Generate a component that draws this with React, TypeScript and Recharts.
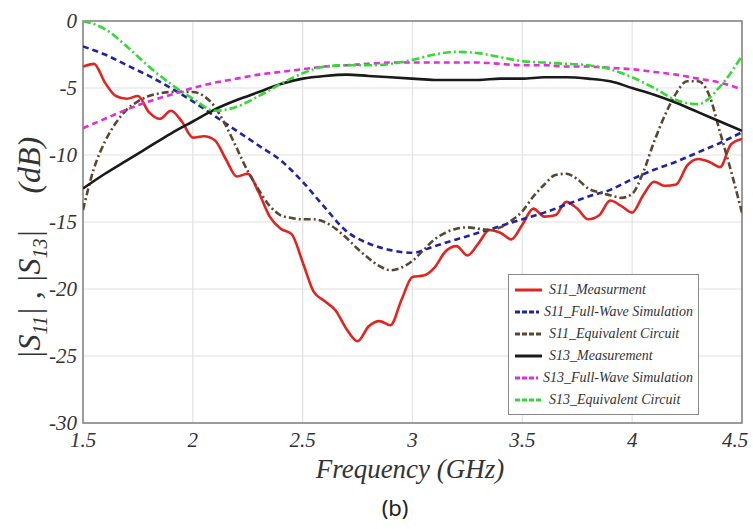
import { CartesianGrid, Legend, Line, LineChart, ReferenceArea, XAxis, YAxis } from "recharts";

// frequency grids (GHz)
const FREQ_FINE = [
  1.5, 1.55, 1.6, 1.65, 1.7, 1.75, 1.8, 1.85, 1.9, 1.95, 2.0, 2.05, 2.1, 2.15, 2.2, 2.25, 2.3, 2.35, 2.4, 2.45,
  2.5, 2.55, 2.6, 2.65, 2.7, 2.75, 2.8, 2.85, 2.9, 2.95, 3.0, 3.05, 3.1, 3.15, 3.2, 3.25, 3.3, 3.35, 3.4, 3.45,
  3.5, 3.55, 3.6, 3.65, 3.7, 3.75, 3.8, 3.85, 3.9, 3.95, 4.0, 4.05, 4.1, 4.15, 4.2, 4.25, 4.3, 4.35, 4.4, 4.45, 4.5,
];
const FREQ_COARSE = [
  1.5, 1.6, 1.7, 1.8, 1.9, 2.0, 2.1, 2.2, 2.3, 2.4, 2.5, 2.6, 2.7, 2.8, 2.9, 3.0,
  3.1, 3.2, 3.3, 3.4, 3.5, 3.6, 3.7, 3.8, 3.9, 4.0, 4.1, 4.2, 4.3, 4.4, 4.5,
];

// dB values
const S11_MEAS = [
  -3.4, -3.2, -4.6, -5.6, -5.8, -5.6, -6.8, -7.3, -6.7, -7.5, -8.7, -8.6, -8.9, -10.3, -11.6, -11.4, -12.8, -14.6, -15.5, -15.9,
  -18.0, -20.2, -20.9, -21.6, -23.0, -23.9, -22.8, -22.4, -22.7, -20.8, -19.1, -19.0, -18.4, -17.2, -16.8, -17.5, -16.6, -15.6, -15.8, -16.3,
  -15.2, -14.0, -14.6, -14.5, -13.5, -14.0, -14.8, -14.5, -13.4, -13.8, -14.3, -13.0, -12.0, -12.3, -12.2, -10.8, -10.3, -10.5, -10.9, -9.2, -8.8,
];
const S11_CIRCUIT = [
  -14.1, -11.0, -9.0, -7.6, -6.6, -6.0, -5.6, -5.4, -5.3, -5.3, -5.3, -5.6, -6.4, -7.8, -9.5, -11.2, -12.6, -13.8, -14.5, -14.7,
  -14.8, -14.8, -15.0, -15.5, -16.2, -17.0, -17.7, -18.3, -18.6, -18.4, -17.9, -17.1, -16.3, -15.8, -15.5, -15.4, -15.5, -15.6, -15.4, -14.9,
  -14.2, -13.1, -12.2, -11.5, -11.4, -11.8, -12.5, -12.8, -13.0, -13.2, -12.9, -11.3, -9.0, -7.0, -5.4, -4.5, -4.5, -5.5, -8.3, -11.2, -14.3,
];
const S11_FULLWAVE = [
  -1.9, -2.5, -3.3, -4.1, -5.0, -6.0, -7.1, -8.2, -9.3, -10.4, -12.0, -13.9, -15.7, -16.6, -17.1, -17.3,
  -16.8, -16.3, -15.8, -15.3, -14.8, -14.3, -13.7, -13.1, -12.6, -11.8, -11.1, -10.5, -9.8, -9.1, -8.3,
];
const S13_MEAS = [
  -12.5, -11.4, -10.4, -9.4, -8.4, -7.5, -6.6, -5.9, -5.3, -4.7, -4.3, -4.1, -4.0, -4.1, -4.2, -4.3,
  -4.4, -4.4, -4.4, -4.3, -4.3, -4.2, -4.2, -4.3, -4.5, -5.0, -5.5, -6.1, -6.8, -7.5, -8.2,
];
const S13_FULLWAVE = [
  -8.0, -7.3, -6.6, -6.0, -5.5, -5.0, -4.6, -4.3, -4.0, -3.8, -3.6, -3.4, -3.3, -3.2, -3.1, -3.1,
  -3.1, -3.1, -3.1, -3.2, -3.3, -3.3, -3.4, -3.4, -3.5, -3.6, -3.8, -4.0, -4.3, -4.6, -5.1,
];
const S13_CIRCUIT = [
  0.0, -0.6, -1.9, -3.4, -4.7, -5.8, -6.7, -6.4, -5.6, -4.7, -3.9, -3.4, -3.3, -3.3, -3.2, -2.9,
  -2.5, -2.3, -2.4, -2.7, -3.0, -3.1, -3.2, -3.3, -3.6, -4.2, -5.0, -5.9, -6.2, -4.9, -2.6,
];

const X_TICKS = [1.5, 2, 2.5, 3, 3.5, 4, 4.5];
const Y_TICKS = [0, -5, -10, -15, -20, -25, -30];

const toPoints = (freq: number[], db: number[]) => freq.map((f, i) => ({ f, db: db[i] }));

const SERIES = [
  { name: "S11_Measurment", data: toPoints(FREQ_FINE, S11_MEAS), color: "#e3231e", dash: undefined },
  { name: "S11_Full-Wave Simulation", data: toPoints(FREQ_COARSE, S11_FULLWAVE), color: "#1e22a6", dash: "6 4" },
  { name: "S11_Equivalent Circuit", data: toPoints(FREQ_FINE, S11_CIRCUIT), color: "#5a4631", dash: "7 3 2 3" },
  { name: "S13_Measurement", data: toPoints(FREQ_COARSE, S13_MEAS), color: "#1a1a1a", dash: undefined },
  { name: "S13_Full-Wave Simulation", data: toPoints(FREQ_COARSE, S13_FULLWAVE), color: "#e02fd9", dash: "6 4" },
  { name: "S13_Equivalent Circuit", data: toPoints(FREQ_COARSE, S13_CIRCUIT), color: "#35d935", dash: "8 3 2 3" },
];

const SERIF = "'Liberation Serif', 'Times New Roman', serif";
const serifText = { fontFamily: SERIF, fontStyle: "italic" as const };

const renderXTick = (props: any) => {
  const { x, y, payload, index } = props;
  // the last label is pulled in a little so it stays on the page
  const shift = payload.value === 4.5 ? -7 : 0;
  return (
    <text key={`xt-${index}`} x={x + shift} y={y + 16} textAnchor="middle" fill="#333" style={{ ...serifText, fontSize: 21 }}>
      {payload.value}
    </text>
  );
};

const renderYTick = (props: any) => {
  const { x, y, payload, index } = props;
  return (
    <text key={`yt-${index}`} x={x + 2} y={y + 7} textAnchor="end" fill="#333" style={{ ...serifText, fontSize: 21 }}>
      {payload.value}
    </text>
  );
};

function LegendBox() {
  return (
    <div
      style={{
        border: "1px solid #888",
        background: "#fff",
        padding: "4px 5px",
        boxSizing: "border-box",
        width: 191,
        height: 141,
        ...serifText,
        fontSize: 14,
        color: "#333",
      }}
    >
      {SERIES.map((s) => (
        <div key={s.name} style={{ display: "flex", alignItems: "center", height: 22 }}>
          <svg width={30} height={10} style={{ marginRight: 5 }}>
            <line x1={1} y1={5} x2={28} y2={5} stroke={s.color} strokeWidth={3} strokeDasharray={s.dash ? "5 2" : undefined} />
          </svg>
          <span style={{ whiteSpace: "nowrap" }}>{s.name}</span>
        </div>
      ))}
    </div>
  );
}

function YTitle() {
  return (
    <text
      x={40}
      y={248}
      transform="rotate(-90, 40, 248)"
      textAnchor="middle"
      fill="#333"
      style={{ ...serifText, fontSize: 32 }}
    >
      |S<tspan fontSize={20} dy={7}>11</tspan>
      <tspan dy={-7}>| , |S</tspan>
      <tspan fontSize={20} dy={7}>13</tspan>
      <tspan dy={-7}>|</tspan>
      <tspan dx={36}>(dB)</tspan>
    </text>
  );
}

function XTitle() {
  return (
    <text x={410} y={478} textAnchor="middle" fill="#333" style={{ ...serifText, fontSize: 27 }}>
      Frequency (GHz)
    </text>
  );
}

export default function App() {
  return (
    <div style={{ position: "absolute", left: 0, top: 0, width: 753, height: 529, background: "#fff" }}>
      <LineChart width={753} height={529} margin={{ top: 21, right: 11, left: 43, bottom: 76 }}>
        <CartesianGrid stroke="#e2e2e2" strokeWidth={1.2} />
        <XAxis
          dataKey="f"
          type="number"
          domain={[1.5, 4.5]}
          ticks={X_TICKS}
          allowDataOverflow
          height={30}
          axisLine={false}
          tickLine={false}
          tick={renderXTick}
          label={{ content: () => <XTitle /> }}
        />
        <YAxis
          type="number"
          domain={[-30, 0]}
          ticks={Y_TICKS}
          allowDataOverflow
          width={40}
          axisLine={false}
          tickLine={false}
          tick={renderYTick}
          label={{ content: () => <YTitle /> }}
        />
        <ReferenceArea x1={1.5} x2={4.5} y1={-30} y2={0} fill="none" stroke="#808080" strokeWidth={1.5} />
        {SERIES.map((s) => (
          <Line
            key={s.name}
            data={s.data}
            dataKey="db"
            name={s.name}
            type="monotone"
            stroke={s.color}
            strokeWidth={2.6}
            strokeDasharray={s.dash}
            dot={false}
            activeDot={false}
            isAnimationActive={false}
          />
        ))}
        <Legend
          layout="horizontal"
          verticalAlign="middle"
          align="center"
          content={() => <LegendBox />}
          wrapperStyle={{ left: 508, top: 274, width: 191, height: 141 }}
        />
      </LineChart>
      <div
        style={{
          position: "absolute",
          left: 345,
          top: 492,
          width: 100,
          textAlign: "center",
          fontFamily: "'Noto Sans', sans-serif",
          fontSize: 22,
          color: "#222",
        }}
      >
        (b)
      </div>
    </div>
  );
}
